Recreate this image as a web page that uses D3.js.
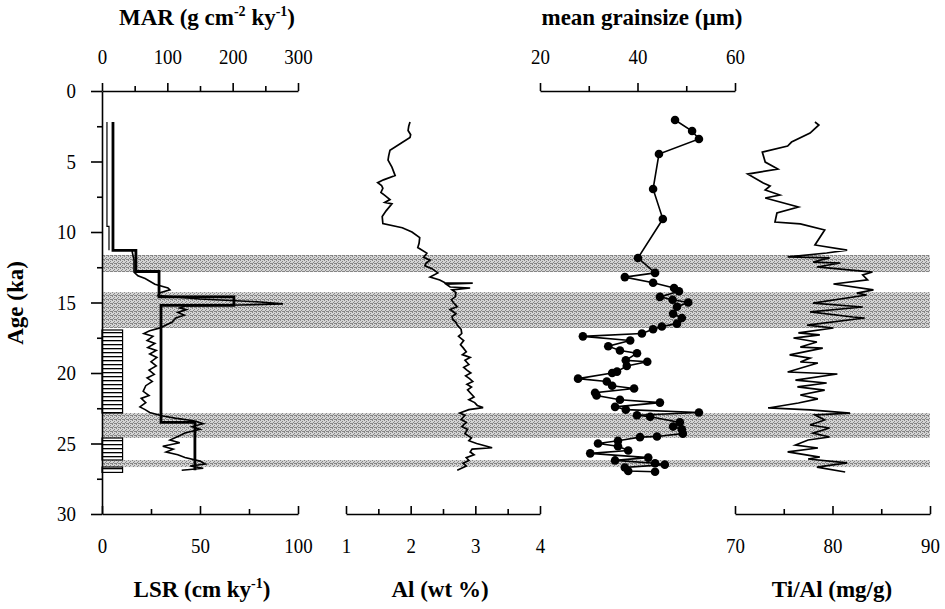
<!DOCTYPE html>
<html>
<head>
<meta charset="utf-8">
<script src="https://cdn.jsdelivr.net/npm/d3@7"></script>
<style>
  body { margin: 0; background: #fff; }
  text { font-family: "Liberation Serif", "Times New Roman", serif; fill: #000; }
  .axis path, .axis line { stroke: #000; stroke-width: 1.6; }
</style>
</head>
<body>
<svg id="chart" width="945" height="609"></svg>
<script>
// ---- data (age in ka) ----
const ageTicks = [0, 2.5, 5, 7.5, 10, 12.5, 15, 17.5, 20, 22.5, 25, 27.5, 30];

// grey bands (age top / bottom)
const bandTop = [11.63, 14.26, 22.84, 26.17];
const bandBottom = [12.84, 16.81, 24.61, 26.67];

// hatched boxes in LSR column
const hatchTop = [16.95, 24.61, 26.67];
const hatchBottom = [22.84, 26.17, 27.05];

// LSR step (cm/ky), value holds from age to next age
const lsrAge = [2.2, 11.3, 12.8, 14.6, 15.2, 23.5, 26.9];
const lsr = [5.6, 17.3, 29.1, 67.3, 30.1, 47.4, 47.4];

// MAR low-res step (Holocene)
const marStepAge = [2.2, 9.6, 11.3];
const marStep = [7.6, 10.7, 10.7];

// MAR high-res (g cm-2 ky-1)
const mar = [
  [11.35, 46], [12.0, 49], [12.84, 49], [13.1, 55], [13.3, 66], [13.7, 81], [13.97, 101],
  [14.1, 104], [14.3, 89], [14.5, 86], [14.75, 150], [14.96, 242], [15.1, 277], [15.18, 211],
  [15.25, 127], [15.4, 119], [15.5, 129], [15.7, 116], [15.9, 126], [16.1, 113], [16.4, 107],
  [16.6, 98], [16.8, 89], [17.0, 73], [17.2, 64], [17.4, 78], [17.7, 69], [17.9, 81],
  [18.2, 70], [18.4, 83], [18.65, 73], [18.9, 84], [19.2, 75], [19.5, 83], [19.8, 72],
  [20.1, 80], [20.35, 69], [20.6, 77], [20.9, 67], [21.3, 63], [21.6, 72], [21.8, 60],
  [22.1, 67], [22.4, 58], [22.6, 66], [22.8, 73], [23.05, 93], [23.2, 112], [23.4, 142],
  [23.6, 155], [23.8, 138], [24.0, 150], [24.25, 127], [24.5, 116], [24.75, 104], [24.95, 119],
  [25.2, 93], [25.4, 109], [25.6, 98], [25.8, 116], [26.0, 127], [26.25, 150], [26.45, 158],
  [26.6, 135], [26.75, 155], [26.9, 122]
];

// Al (wt %)
const al = [
  [2.2, 1.99], [2.5, 1.97], [2.8, 1.96], [3.1, 2.0], [3.3, 1.99], [3.7, 1.85], [4.2, 1.68],
  [4.6, 1.66], [4.9, 1.65], [5.4, 1.71], [6.0, 1.76], [6.3, 1.58], [6.5, 1.49], [6.7, 1.55],
  [6.9, 1.57], [7.2, 1.54], [7.4, 1.6], [7.7, 1.68], [7.9, 1.6], [8.0, 1.71], [8.5, 1.62],
  [8.9, 1.56], [9.4, 1.57], [9.7, 1.87], [10.0, 2.02], [10.4, 2.14], [10.8, 2.13], [11.1, 2.11],
  [11.5, 2.25], [11.8, 2.2], [12.0, 2.3], [12.2, 2.24], [12.4, 2.22], [12.6, 2.33], [12.9, 2.42],
  [13.2, 2.3], [13.4, 2.45], [13.6, 2.53], [13.62, 2.96], [13.7, 2.55], [13.9, 2.61], [13.97, 2.92],
  [14.1, 2.64], [14.3, 2.7], [14.6, 2.69], [14.8, 2.63], [15.0, 2.66], [15.3, 2.72], [15.5, 2.61],
  [15.8, 2.7], [16.0, 2.64], [16.2, 2.65], [16.4, 2.7], [16.6, 2.72], [16.9, 2.78], [17.2, 2.79],
  [17.4, 2.74], [17.7, 2.82], [18.0, 2.77], [18.2, 2.81], [18.5, 2.86], [18.7, 2.8], [18.9, 2.92],
  [19.1, 2.84], [19.4, 2.9], [19.6, 2.82], [19.8, 2.87], [20.0, 2.93], [20.2, 2.85], [20.4, 2.91],
  [20.6, 2.96], [20.8, 2.87], [21.0, 2.94], [21.2, 2.88], [21.4, 2.92], [21.7, 2.98], [21.9, 2.9],
  [22.1, 2.99], [22.3, 3.03], [22.45, 3.12], [22.6, 2.9], [22.84, 2.76], [23.0, 2.84], [23.3, 2.78],
  [23.5, 2.86], [23.8, 2.79], [24.0, 2.88], [24.3, 2.84], [24.6, 2.94], [24.8, 2.9], [25.0, 3.02],
  [25.3, 3.26], [25.4, 2.95], [25.6, 2.92], [25.8, 2.98], [26.0, 2.86], [26.2, 2.9], [26.4, 2.81],
  [26.6, 2.86], [26.9, 2.72]
];

// mean grainsize (µm)
const grain = [
  [2.06, 47.7], [2.84, 51.2], [3.4, 52.6], [4.47, 44.4], [6.95, 43.2], [9.08, 45.2], [11.84, 40.1],
  [12.9, 43.6], [13.2, 37.4], [13.6, 43.2], [13.97, 47.5], [14.2, 48.5], [14.6, 44.6], [14.8, 47.2],
  [15.0, 50.4], [15.3, 48.1], [15.8, 47.3], [16.1, 49.1], [16.5, 48.1], [16.7, 45.0], [16.9, 43.2],
  [17.2, 40.9], [17.4, 28.8], [17.7, 38.5], [18.1, 34.0], [18.4, 36.4], [18.6, 39.9], [19.1, 37.6],
  [19.2, 42.0], [19.5, 37.8], [19.9, 35.8], [20.0, 34.8], [20.4, 27.8], [20.6, 33.7], [20.9, 34.8],
  [21.1, 39.3], [21.4, 31.3], [21.6, 31.6], [21.9, 36.4], [22.1, 44.6], [22.4, 35.4], [22.6, 37.6],
  [22.8, 52.6], [23.0, 39.9], [23.1, 42.6], [23.5, 48.7], [23.8, 47.3], [24.0, 49.1], [24.3, 49.3],
  [24.5, 44.0], [24.55, 40.5], [24.8, 36.0], [25.0, 31.9], [25.2, 36.0], [25.5, 38.1], [25.7, 30.3],
  [26.0, 42.2], [26.2, 35.4], [26.4, 43.6], [26.5, 45.6], [26.7, 37.4], [26.95, 38.1], [27.0, 43.6]
];

// Ti/Al (mg/g)
const tiAl = [
  [2.2, 78.2], [2.41, 78.6], [2.98, 77.7], [3.62, 75.8], [3.9, 75.4], [4.33, 72.8], [5.04, 73.1],
  [5.53, 74.4], [5.89, 71.3], [6.52, 72.9], [6.74, 73.6], [7.02, 73.1], [7.38, 74.6], [7.59, 73.1],
  [8.23, 76.5], [8.65, 74.3], [9.29, 74.1], [9.43, 76.7], [9.86, 79.2], [10.92, 78.2], [11.28, 81.5],
  [11.49, 79.4], [11.77, 75.4], [11.84, 79.7], [12.13, 78.0], [12.2, 80.8], [12.48, 78.4], [12.84, 84.1],
  [13.05, 83.1], [13.4, 83.6], [13.69, 80.1], [14.11, 84.2], [14.33, 82.5], [14.47, 83.5], [15.04, 78.0],
  [15.32, 83.1], [15.67, 77.7], [16.03, 82.1], [16.1, 83.3], [16.6, 77.4], [16.81, 80.1], [17.16, 76.5],
  [17.3, 78.7], [17.52, 76.0], [17.8, 78.4], [18.16, 76.7], [18.23, 79.0], [18.72, 75.6], [18.94, 77.7],
  [19.22, 76.7], [19.29, 78.5], [19.93, 75.4], [20.07, 80.5], [20.5, 76.2], [20.71, 79.4], [20.99, 76.4],
  [21.21, 79.2], [21.56, 76.7], [21.84, 78.5], [22.13, 76.5], [22.48, 73.4], [22.62, 77.7], [22.84, 81.8],
  [22.98, 78.2], [23.33, 79.2], [23.69, 77.7], [23.9, 79.7], [24.26, 78.0], [24.54, 79.7], [24.75, 77.5],
  [25.11, 76.2], [25.32, 78.5], [25.6, 75.4], [25.96, 78.7], [26.1, 77.5], [26.38, 81.5], [26.67, 78.4],
  [27.02, 81.3]
];

// ---- chart ----
const svg = d3.select('#chart');

const y = d3.scaleLinear().domain([0, 30]).range([91, 514]);
const xMar = d3.scaleLinear().domain([0, 300]).range([102, 298]);
const xLsr = d3.scaleLinear().domain([0, 100]).range([102, 298]);
const xAl = d3.scaleLinear().domain([1, 4]).range([346, 540]);
const xGs = d3.scaleLinear().domain([20, 60]).range([540, 735]);
const xTi = d3.scaleLinear().domain([70, 90]).range([735, 930]);

const defs = svg.append('defs');
const stipple = defs.append('pattern')
  .attr('id', 'stipple')
  .attr('width', 4).attr('height', 4)
  .attr('patternUnits', 'userSpaceOnUse');
stipple.append('rect').attr('width', 4).attr('height', 4).attr('fill', '#d4d4d4');
[[0, 0], [2, 1], [1, 2], [3, 3], [0, 3], [2, 3]].forEach(([a, b]) => {
  stipple.append('rect').attr('x', a).attr('y', b).attr('width', 1).attr('height', 1).attr('fill', '#858585');
});
const hatch = defs.append('pattern')
  .attr('id', 'hatch')
  .attr('width', 4).attr('height', 4)
  .attr('patternUnits', 'userSpaceOnUse');
hatch.append('rect').attr('width', 4).attr('height', 4).attr('fill', '#fff');
hatch.append('rect').attr('width', 4).attr('height', 1.3).attr('fill', '#000');

// bands
svg.append('g')
  .selectAll('rect')
  .data(bandTop)
  .enter()
  .append('rect')
  .attr('x', xLsr(0))
  .attr('width', xTi(90) - xLsr(0))
  .attr('y', (d) => y(d))
  .attr('height', (d, i) => y(bandBottom[i]) - y(d))
  .attr('fill', 'url(#stipple)');

// hatched boxes
svg.append('g')
  .selectAll('rect')
  .data(hatchTop)
  .enter()
  .append('rect')
  .attr('x', xLsr(0))
  .attr('width', xLsr(10.5) - xLsr(0))
  .attr('y', (d) => y(d))
  .attr('height', (d, i) => y(hatchBottom[i]) - y(d))
  .attr('fill', 'url(#hatch)')
  .attr('stroke', '#000')
  .attr('stroke-width', 1.2);

// lines
const stepLine = (xs) => d3.line()
  .x((d) => xs(d[1]))
  .y((d) => y(d[0]))
  .curve(d3.curveStepBefore);

const plain = (xs) => d3.line()
  .x((d) => xs(d[1]))
  .y((d) => y(d[0]));

svg.append('path')
  .datum(marStepAge.map((a, i) => [a, marStep[i]]))
  .attr('d', stepLine(xMar))
  .attr('fill', 'none').attr('stroke', '#000').attr('stroke-width', 1.2);

svg.append('path')
  .datum(mar)
  .attr('d', plain(xMar))
  .attr('fill', 'none').attr('stroke', '#000').attr('stroke-width', 1.6);

svg.append('path')
  .datum(lsrAge.map((a, i) => [a, lsr[i]]))
  .attr('d', stepLine(xLsr))
  .attr('fill', 'none').attr('stroke', '#000').attr('stroke-width', 2.8);

svg.append('path')
  .datum(al)
  .attr('d', plain(xAl))
  .attr('fill', 'none').attr('stroke', '#000').attr('stroke-width', 1.7);

svg.append('path')
  .datum(grain)
  .attr('d', plain(xGs))
  .attr('fill', 'none').attr('stroke', '#000').attr('stroke-width', 1.6);

svg.append('g')
  .selectAll('circle')
  .data(grain)
  .enter()
  .append('circle')
  .attr('cx', (d) => xGs(d[1]))
  .attr('cy', (d) => y(d[0]))
  .attr('r', 4.3)
  .attr('fill', '#000');

svg.append('path')
  .datum(tiAl)
  .attr('d', plain(xTi))
  .attr('fill', 'none').attr('stroke', '#000').attr('stroke-width', 1.7);

// axes
const sx = 0.9;
function styleTicks(g) {
  g.selectAll('text')
    .attr('font-size', 21)
    .attr('font-family', '"Liberation Serif", serif')
    .attr('transform', `scale(${sx},1)`);
}

function hAxis(axisFn, scale, yPos, major, minor, pad) {
  const g = svg.append('g').attr('class', 'axis').attr('transform', `translate(0,${yPos})`);
  const up = axisFn === d3.axisTop;
  g.call(axisFn(scale)
    .tickValues(major)
    .tickSize(up ? 8 : -8)
    .tickSizeOuter(0)
    .tickPadding(pad)
    .tickFormat((d) => d));
  styleTicks(g);
  g.selectAll('text').attr('x', 0);
  const m = svg.append('g').attr('class', 'axis').attr('transform', `translate(0,${yPos})`);
  m.call(axisFn(scale).tickValues(minor).tickSize(up ? 5 : -5).tickSizeOuter(0).tickFormat(''));
  m.select('.domain').remove();
}

hAxis(d3.axisTop, xMar, 91, [0, 100, 200, 300], [50, 150, 250], 19);
hAxis(d3.axisTop, xGs, 91, [20, 40, 60], [30, 50], 19);
hAxis(d3.axisBottom, xLsr, 514, [0, 50, 100], [25, 75], 24);
hAxis(d3.axisBottom, xAl, 514, [1, 2, 3, 4], [1.5, 2.5, 3.5], 24);
hAxis(d3.axisBottom, xTi, 514, [70, 80, 90], [75, 85], 24);

const yAxis = svg.append('g')
  .attr('class', 'axis')
  .attr('transform', `translate(${xLsr(0)},0)`)
  .call(d3.axisLeft(y)
    .tickValues(ageTicks)
    .tickSize(5)
    .tickSizeOuter(0)
    .tickFormat((d) => (d % 5 === 0 ? d : '')));
styleTicks(yAxis);
yAxis.selectAll('text').attr('x', -26 / sx);
yAxis.selectAll('.tick line').filter((d) => d % 5 === 0).attr('x2', -11);

// titles
function title(x, yPos, parts, rotate) {
  const t = svg.append('text')
    .attr('text-anchor', 'middle')
    .attr('font-weight', 'bold')
    .attr('font-size', 23)
    .attr('transform', `translate(${x},${yPos})${rotate ? ' rotate(-90)' : ''}`);
  let shift = 0;
  parts.forEach(([s, sup]) => {
    const dy = sup ? -9 - shift : -shift;
    shift = sup ? -9 : 0;
    t.append('tspan')
      .attr('dy', dy)
      .attr('font-size', sup ? 14 : 23)
      .text(s);
  });
}

title(207, 25, [['MAR (g cm', 0], ['-2', 1], [' ky', 0], ['-1', 1], [')', 0]]);
title(642, 25, [['mean grainsize (µm)', 0]]);
title(202, 597, [['LSR (cm ky', 0], ['-1', 1], [')', 0]]);
title(440, 597, [['Al (wt %)', 0]]);
title(832, 597, [['Ti/Al (mg/g)', 0]]);
title(23, 303, [['Age (ka)', 0]], true);
</script>
</body>
</html>
